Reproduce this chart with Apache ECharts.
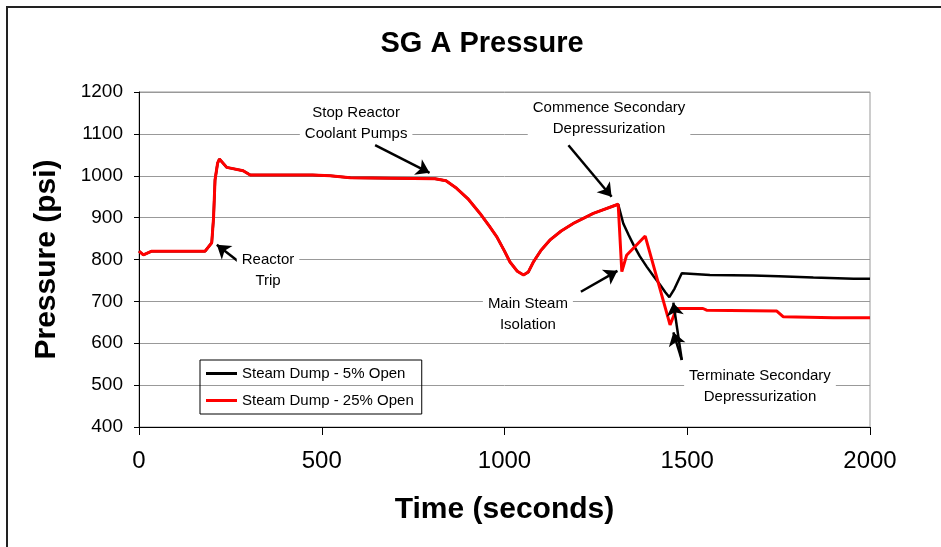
<!DOCTYPE html>
<html>
<head>
<meta charset="utf-8">
<script src="https://cdn.jsdelivr.net/npm/echarts@6/dist/echarts.min.js"></script>
<style>
  html, body { margin: 0; padding: 0; background: #fff; }
  #chart { width: 941px; height: 547px; }
</style>
</head>
<body>
<div id="chart"></div>
<script>
// Steam Dump - 5% Open (black)
var time5 = [0, 12, 35, 181, 199, 204, 208, 215, 220, 240, 285, 304, 475, 523, 578, 810, 840, 869, 900, 933, 960, 979, 1000, 1015, 1035, 1052, 1065, 1079, 1100, 1125, 1155, 1188, 1243, 1311,
  1325, 1340, 1353, 1370, 1389, 1408, 1426, 1440, 1451, 1465, 1485, 1562, 1680, 1750, 1845, 1955, 2000]
var press5 = [820, 811, 820, 820, 840, 900, 990, 1030, 1040, 1020, 1012, 1002, 1002, 1000, 995, 993, 988, 970, 945, 910, 878, 854, 820, 794, 772, 763, 770, 794, 822, 847, 868, 886, 910, 932,
  886, 858, 835, 808, 783, 760, 739, 722, 710, 730, 767, 763, 762, 760, 757, 754, 754]

// Steam Dump - 25% Open (red)
var time25 = [0, 12, 35, 181, 199, 204, 208, 215, 220, 240, 285, 304, 475, 523, 578, 810, 840, 869, 900, 933, 960, 979, 1000, 1015, 1035, 1052, 1065, 1079, 1100, 1125, 1155, 1188, 1243, 1311,
  1321, 1334, 1385, 1453, 1471, 1543, 1553, 1745, 1763, 1900, 2000]
var press25 = [820, 811, 820, 820, 840, 900, 990, 1030, 1040, 1020, 1012, 1002, 1002, 1000, 995, 993, 988, 970, 945, 910, 878, 854, 820, 794, 772, 763, 770, 794, 822, 847, 868, 886, 910, 932,
  771, 810, 856, 644, 683, 683, 679, 677, 663, 661, 661]

// annotations: text anchor [time, psi], arrows [from, to]
var noteText = ['Stop Reactor\nCoolant Pumps', 'Commence Secondary\nDepressurization', 'Reactor\nTrip', 'Main Steam\nIsolation', 'Terminate Secondary\nDepressurization']
var noteAt = [[594, 1126], [1286, 1138], [353, 775], [1064, 670], [1699, 498]]
var arrows = [
  [[646, 1073], [795, 1007]],
  [[1175, 1073], [1293, 950]],
  [[272, 795], [213, 835]],
  [[1209, 723], [1309, 773]],
  [[1485, 560], [1462, 697]],
  [[1485, 560], [1462, 626]]
]

var font = "'Liberation Sans', Arial, sans-serif"

function pairs (xs, ys) {
  return xs.map(function (x, i) { return [x, ys[i]] })
}

function plain (v) {
  return String(v)
}

var chart = echarts.init(document.getElementById('chart'))
chart.setOption({
  animation: false,
  textStyle: { fontFamily: font },
  title: {
    text: 'SG A Pressure',
    left: 482,
    textAlign: 'center',
    top: 29,
    padding: 0,
    textStyle: { fontSize: 29, fontWeight: 'bold', color: '#000', fontFamily: font }
  },
  graphic: [{
    type: 'rect',
    shape: { x: 7, y: 7, width: 980, height: 580 },
    style: { fill: 'none', stroke: '#222', lineWidth: 2 },
    silent: true
  }],
  legend: {
    orient: 'vertical',
    left: 200,
    top: 360,
    padding: [6, 8, 6, 6],
    borderColor: '#000',
    borderWidth: 1,
    itemWidth: 31,
    itemHeight: 3,
    itemGap: 12,
    icon: 'rect',
    textStyle: { fontSize: 15, color: '#000', fontFamily: font },
    data: ['Steam Dump - 5% Open', 'Steam Dump - 25% Open']
  },
  grid: {
    left: 139,
    right: 71,
    top: 92,
    bottom: 120,
    show: true,
    borderColor: '#999',
    borderWidth: 1,
    backgroundColor: 'transparent'
  },
  xAxis: {
    type: 'value',
    min: 0,
    max: 2000,
    interval: 500,
    name: 'Time (seconds)',
    nameLocation: 'middle',
    nameGap: 68,
    nameTextStyle: { fontSize: 30, fontWeight: 'bold', color: '#000', fontFamily: font },
    axisLine: { show: true, lineStyle: { color: '#000', width: 1 } },
    axisTick: { show: true, length: 8, lineStyle: { color: '#000' } },
    axisLabel: { fontSize: 24, color: '#000', margin: 22, fontFamily: font, formatter: plain },
    splitLine: { show: false }
  },
  yAxis: {
    type: 'value',
    min: 400,
    max: 1200,
    interval: 100,
    name: 'Pressure (psi)',
    nameLocation: 'middle',
    nameGap: 77,
    nameTextStyle: { fontSize: 30, fontWeight: 'bold', color: '#000', fontFamily: font },
    axisLine: { show: true, lineStyle: { color: '#000', width: 1 } },
    axisTick: { show: true, length: 5, lineStyle: { color: '#000' } },
    axisLabel: { fontSize: 19, color: '#000', margin: 16, fontFamily: font, formatter: plain },
    splitLine: { show: true, lineStyle: { color: '#999', width: 1 } }
  },
  series: [
    {
      name: 'Steam Dump - 5% Open',
      type: 'line',
      data: pairs(time5, press5),
      showSymbol: false,
      color: '#000',
      lineStyle: { color: '#000', width: 2.5 }
    },
    {
      name: 'Steam Dump - 25% Open',
      type: 'line',
      data: pairs(time25, press25),
      showSymbol: false,
      color: '#ff0000',
      lineStyle: { color: '#ff0000', width: 3 },
      markLine: {
        silent: true,
        symbol: ['none', 'arrow'],
        symbolSize: 13,
        label: { show: false },
        lineStyle: { color: '#000', width: 2.5, type: 'solid' },
        data: arrows.map(function (a) {
          return [{ coord: a[0] }, { coord: a[1] }]
        })
      },
      markPoint: {
        silent: true,
        symbol: 'circle',
        symbolSize: 1,
        itemStyle: { color: 'rgba(0,0,0,0)' },
        label: {
          show: true,
          position: 'inside',
          color: '#000',
          fontSize: 15,
          lineHeight: 21,
          fontFamily: font,
          backgroundColor: '#fff',
          padding: [0, 5]
        },
        data: noteAt.map(function (p, i) {
          return { coord: p, value: noteText[i], label: { formatter: noteText[i] } }
        })
      }
    }
  ]
})
</script>
</body>
</html>
